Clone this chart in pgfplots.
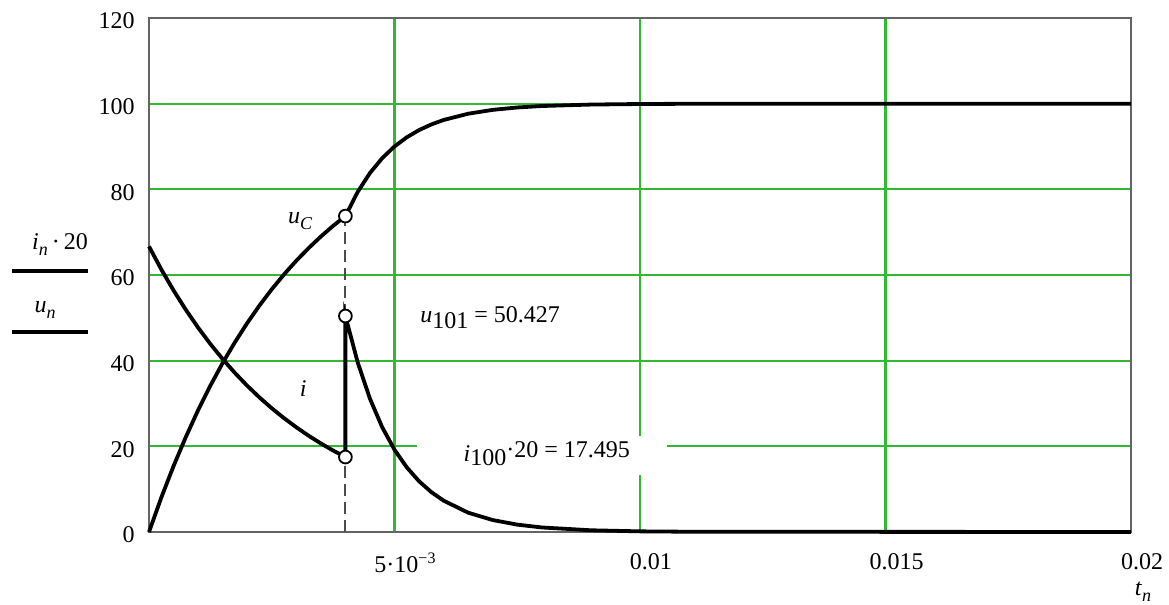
\documentclass[border=0pt]{standalone}
\usepackage{pgfplots}
\pgfplotsset{compat=1.18}
\usepackage{fontspec}
\setmainfont{Liberation Serif}
\definecolor{gridgreen}{RGB}{50,185,50}
\definecolor{framegray}{RGB}{100,100,100}
\begin{document}
\fontsize{12}{14}\selectfont
\begin{tikzpicture}
\useasboundingbox (0,0) rectangle (584.5pt,302.5pt);
\begin{axis}[
  at={(74.5pt,36.5pt)}, anchor=south west,
  scale only axis, width=491pt, height=257pt,
  xmin=0, xmax=0.02, ymin=0, ymax=120,
  xtick={0.005,0.01,0.015,0.02},
  xticklabels={5·10\textsuperscript{−3},0.01,0.015,0.02},
  ytick={0,20,40,60,80,100,120},
  scaled x ticks=false,
  /pgf/number format/assume math mode=true,
  grid=major,
  major grid style={line width=1.1pt, color=gridgreen},
  major tick length=0pt,
  axis line style={line width=1pt, color=framegray},
  xticklabel style={yshift=-6.5pt, xshift=5.5pt},
  yticklabel style={xshift=-3pt, yshift=-1.5pt},
  clip=false,
]
% white box behind the i annotation
\fill[white] (axis cs:0.00546,13.3) rectangle (axis cs:0.01056,22.4);
% dashed switching line
\addplot[line width=0.9pt, color=black!70, dash pattern=on 6pt off 3pt] coordinates {(0.004,0) (0.004,73.76)};
% i_n * 20
\addplot[line width=1.9pt, black] coordinates {
(0,66.67) (0.00025,61.32) (0.0005,56.40) (0.00075,51.88) (0.001,47.72)
(0.00125,43.89) (0.0015,40.37) (0.00175,37.13) (0.002,34.15) (0.00225,31.41)
(0.0025,28.89) (0.00275,26.58) (0.003,24.45) (0.00325,22.48) (0.0035,20.68)
(0.00375,19.02) (0.004,17.50) (0.004,50.43) (0.00425,39.61) (0.0045,31.12)
(0.00475,24.45) (0.005,19.21) (0.00525,15.09) (0.0055,11.85) (0.00575,9.31)
(0.006,7.32) (0.0065,4.51) (0.007,2.79) (0.0075,1.72) (0.008,1.06)
(0.009,0.40) (0.010,0.15) (0.011,0.06) (0.020,0)
};
% u_n
\addplot[line width=1.9pt, black] coordinates {
(0,0) (0.00025,8.02) (0.0005,15.40) (0.00075,22.18) (0.001,28.43)
(0.00125,34.17) (0.0015,39.45) (0.00175,44.30) (0.002,48.77) (0.00225,52.88)
(0.0025,56.66) (0.00275,60.14) (0.003,63.33) (0.00325,66.27) (0.0035,68.98)
(0.00375,71.47) (0.004,73.76) (0.00425,79.39) (0.0045,83.81) (0.00475,87.28)
(0.005,90.01) (0.00525,92.15) (0.0055,93.83) (0.00575,95.15) (0.006,96.19)
(0.0065,97.65) (0.007,98.55) (0.0075,99.11) (0.008,99.45) (0.009,99.79)
(0.010,99.92) (0.011,99.97) (0.020,100)
};
% marked points
\addplot[only marks, mark=*, mark size=3.2pt, mark options={line width=0.9pt, fill=white, draw=black}]
  coordinates {(0.004,73.76) (0.004,50.43) (0.004,17.50)};
% annotations
\node at (axis cs:0.00308,72.5) {\textit{u}\raisebox{-3pt}{\small\textit{C}}};
\node at (axis cs:0.00314,33.5) {\textit{i}};
\node[anchor=base west, inner sep=0pt] at (axis cs:0.00552,48.8) {\textit{u}\raisebox{-3pt}{101} = 50.427};
\node[anchor=base west, inner sep=0pt] at (axis cs:0.0064,17.5) {\raisebox{-2pt}{\textit{i}\raisebox{-2pt}{100}}·20 = 17.495};
\end{axis}
% left-side legend
\node at (30pt,180pt) {\textit{i}\raisebox{-3pt}{\small\textit{n}}\,·\,20};
\draw[line width=2pt, black] (6pt,167pt) -- (44pt,167pt);
\node at (22.5pt,147.5pt) {\textit{u}\raisebox{-3pt}{\small\textit{n}}};
\draw[line width=2pt, black] (6pt,136.5pt) -- (44pt,136.5pt);
% x variable label
\node at (571.5pt,6.5pt) {\textit{t}\raisebox{-3pt}{\small\textit{n}}};
\end{tikzpicture}
\end{document}
